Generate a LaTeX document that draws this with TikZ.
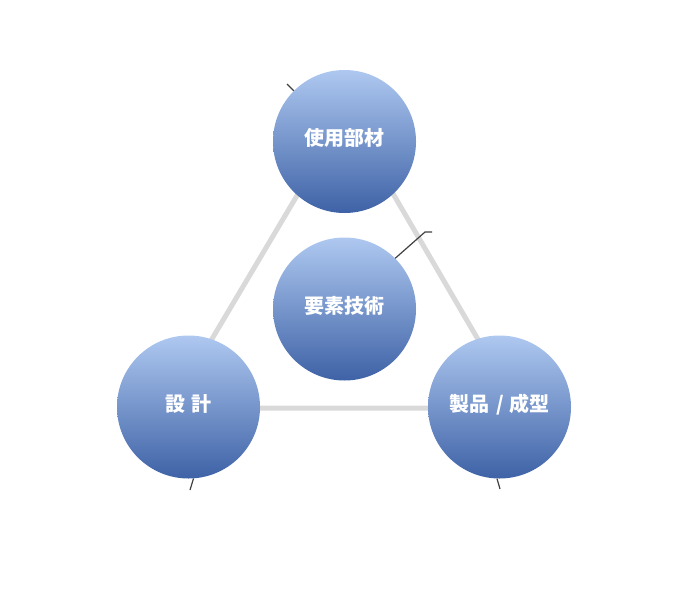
\documentclass[tikz,border=0pt]{standalone}
\usepackage{fontspec}
\newfontfamily\jpfont{Noto Sans CJK JP}
\usepackage{tikz}
\usetikzlibrary{positioning}

\definecolor{balltop}{RGB}{174,200,240}
\definecolor{ballbottom}{RGB}{62,98,166}
\definecolor{linkgray}{RGB}{217,217,217}
\definecolor{leadergray}{RGB}{64,64,64}

\begin{document}
\begin{tikzpicture}[x=1pt,y=-1pt,
    ball/.style={circle,minimum size=143pt,inner sep=0pt,top color=balltop,bottom color=ballbottom,
        text=white,text height=14pt,text depth=5.8pt,font=\jpfont\bfseries\fontsize{20}{24}\selectfont},
    link/.style={draw=linkgray,line width=5pt},
    leader/.style={draw=leadergray,line width=1.2pt}]
        \useasboundingbox (0,0) rectangle (700,607);
        % triangle behind the circles
        \coordinate (tA) at (346,113);
        \coordinate (tB) at (171,408);
        \coordinate (tC) at (518,408);
        \draw [link] (tA) -- (tB) -- (tC) -- cycle;
        % the four circles
        \node [ball] (top) at (344.5,141.5) {使用部材};
        \node [ball] (mid) at (344.5,309) {要素技術};
        \node [ball] (left) at (188.5,407) {設\hspace{0.3em}計};
        \node [ball] (right) at (499.5,407) {製品\hspace{0.35em}/\hspace{0.3em}成型};
        % short leaders
        \coordinate (ltop) at (287,84);
        \coordinate (lmidA) at (425,232);
        \coordinate (lmidB) at (432,232);
        \coordinate (lleft) at (190,490);
        \coordinate (lright) at (500,489);
        \draw [leader] (top.135) -- (ltop);
        \draw [leader] (mid.45) -- (lmidA) -- (lmidB);
        \draw [leader] (left.-86) -- (lleft);
        \draw [leader] (right.-92) -- (lright);
    \end{tikzpicture}
\end{document}
